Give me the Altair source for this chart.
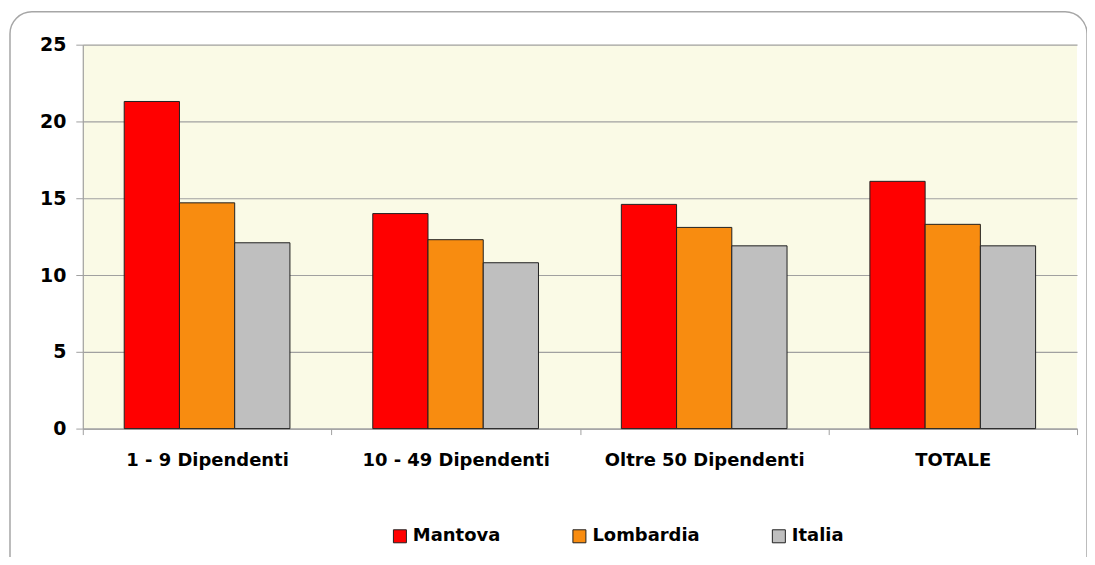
import altair as alt
import pandas as pd

categories = ["1 - 9 Dipendenti", "10 - 49 Dipendenti", "Oltre 50 Dipendenti", "TOTALE"]
series = ["Mantova", "Lombardia", "Italia"]
mantova = [21.3, 14.0, 14.6, 16.1]
lombardia = [14.7, 12.3, 13.1, 13.3]
italia = [12.1, 10.8, 11.9, 11.9]
colors = ["#FF0000", "#F88C10", "#BFBFBF"]

rows = []
for name, vals in zip(series, [mantova, lombardia, italia]):
    for c, v in zip(categories, vals):
        rows.append({"categoria": c, "serie": name, "valore": v})
df = pd.DataFrame(rows)

FONT = "DejaVu Sans"

frame = alt.Chart(alt.Data(values=[{}])).mark_rect(
    cornerRadius=22, fill=None, fillOpacity=0, stroke="#A6A6A6", strokeWidth=1.5
).encode(
    x=alt.value(-73), x2=alt.value(1007), y=alt.value(-33), y2=alt.value(600)
)

bars = alt.Chart(df).mark_bar(stroke="#202020", strokeWidth=1).encode(
    x=alt.X("categoria:N", sort=categories, title=None,
            scale=alt.Scale(paddingInner=0, paddingOuter=0),
            axis=alt.Axis(labelAngle=0, labelFont=FONT, labelFontSize=18,
                          labelFontWeight="bold", labelColor="black",
                          labelLimit=400, labelPadding=17, tickBand="extent",
                          tickSize=6, tickColor="#A0A0A0", domainColor="#A0A0A0",
                          domainWidth=1.2, grid=False)),
    xOffset=alt.XOffset("serie:N", sort=series,
                        scale=alt.Scale(paddingInner=0, paddingOuter=0.75)),
    y=alt.Y("valore:Q", title=None,
            scale=alt.Scale(domain=[0, 25]),
            axis=alt.Axis(values=[0, 5, 10, 15, 20, 25], labelFont=FONT,
                          labelFontSize=19, labelFontWeight="bold",
                          labelColor="black", labelPadding=10, tickSize=7,
                          tickColor="#A0A0A0", domainColor="#A0A0A0",
                          domainWidth=1.2, gridColor="#A0A0A0", gridWidth=1.2)),
    color=alt.Color("serie:N", sort=series,
                    scale=alt.Scale(domain=series, range=colors),
                    legend=alt.Legend(title=None, orient="none", legendX=309,
                                      legendY=484, direction="horizontal",
                                      columns=3, columnPadding=70,
                                      symbolType="square", symbolSize=170,
                                      symbolStrokeColor="#202020",
                                      symbolStrokeWidth=1, labelFont=FONT,
                                      labelFontSize=18, labelFontWeight="bold",
                                      labelColor="black", labelOffset=4)),
)

chart = alt.layer(frame, bars).properties(
    width=997, height=385,
    autosize=alt.AutoSizeParams(type="none"),
    padding={"left": 75, "top": 36, "right": 10, "bottom": 128},
    background="white",
).configure_view(stroke=None, fill="#FAFAE6")

chart.save("out.html", embed_options={"renderer": "svg", "actions": False})
